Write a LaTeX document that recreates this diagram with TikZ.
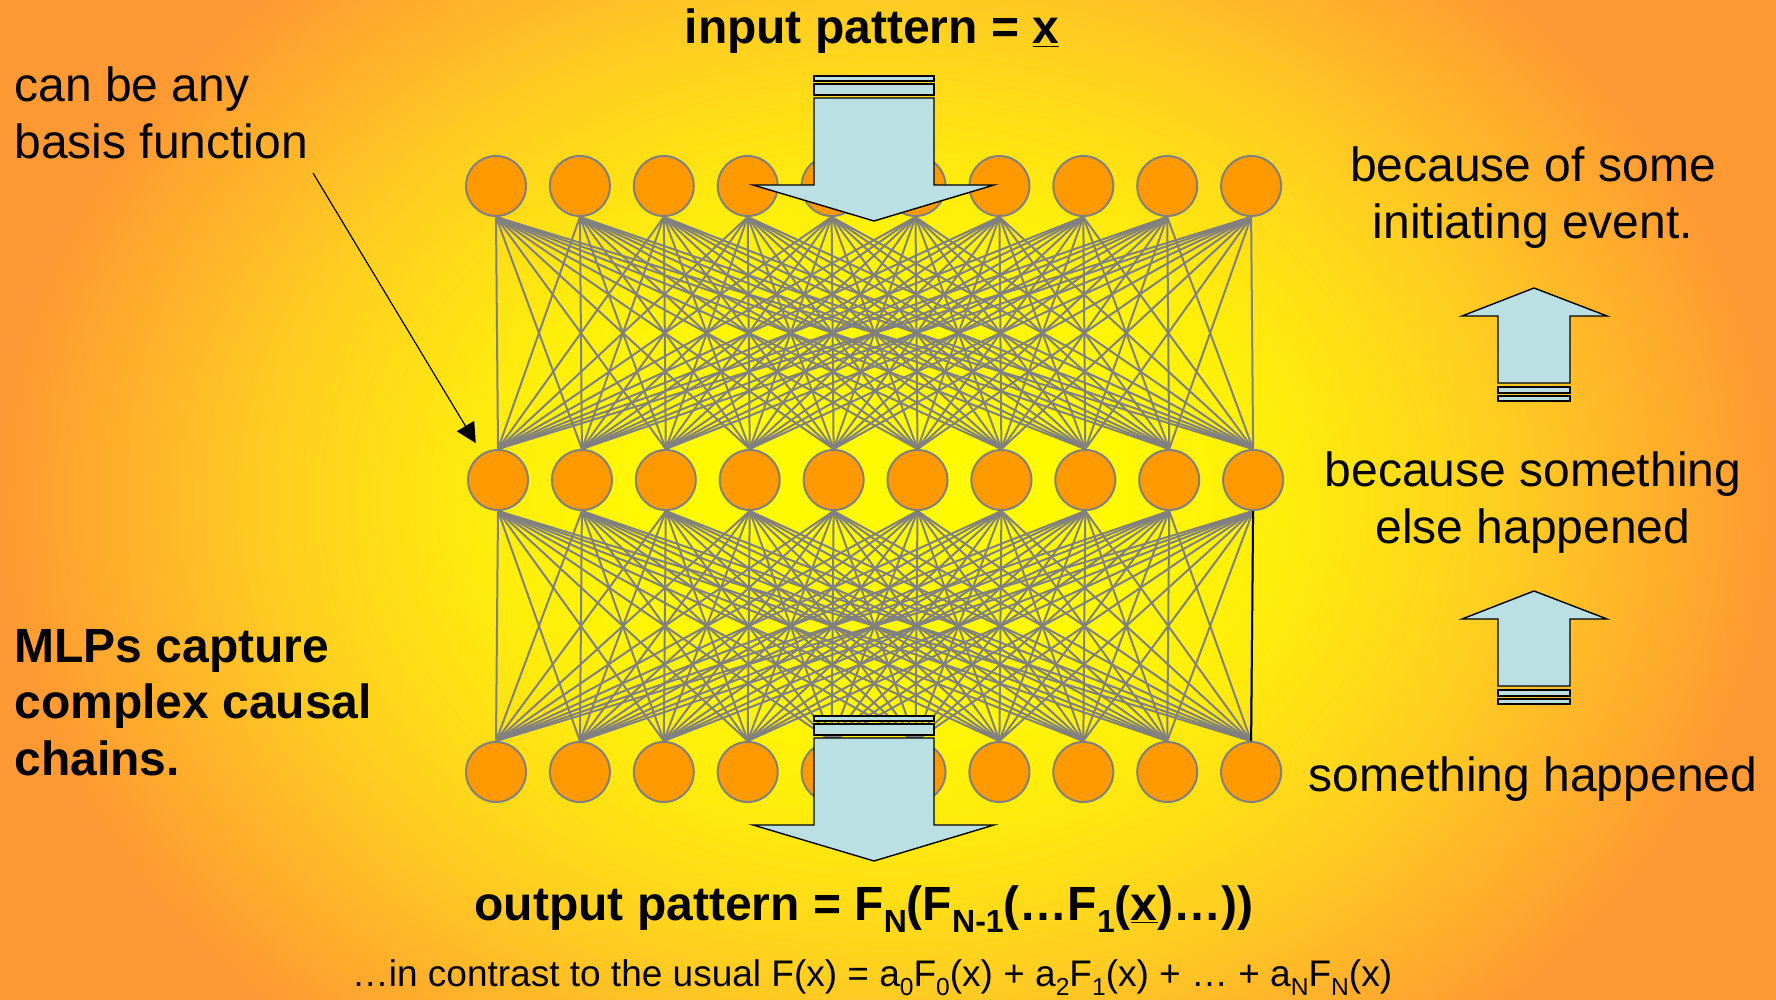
\documentclass[tikz,border=0pt]{standalone}
\usepackage{fontspec}
\setmainfont{Liberation Sans}
\usetikzlibrary{arrows.meta}

\definecolor{glowcore}{RGB}{255,250,0}
\definecolor{glowinner}{RGB}{255,238,10}
\definecolor{glowmid}{RGB}{255,208,32}
\definecolor{gloworange}{RGB}{255,153,51}
\definecolor{unitfill}{RGB}{255,153,0}
\definecolor{unitline}{RGB}{128,128,128}
\definecolor{shaftblue}{RGB}{187,224,227}

\pgfdeclareradialshading{slideglow}{\pgfpoint{0bp}{0bp}}{color(0bp)=(glowcore); color(6bp)=(glowcore); color(11bp)=(glowinner); color(17bp)=(glowmid); color(25bp)=(gloworange); color(50bp)=(gloworange)}

\newcommand{\bigsub}[1]{\raisebox{-6pt}{\fontsize{16}{16}\selectfont #1}}
\newcommand{\smallsub}[1]{\raisebox{-4.5pt}{\fontsize{12.3}{12.3}\selectfont #1}}

\tikzset{
  unit/.style={circle, fill=unitfill, draw=unitline, line width=1pt, minimum size=30pt, inner sep=0pt},
  wire/.style={draw=unitline, line width=1pt},
  shaft/.style={fill=shaftblue, draw=black, line width=0.7pt, line join=miter},
  slidetext/.style={inner sep=0pt, font=\fontsize{24}{28.5}\selectfont},
  pointer/.style={draw=black, line width=0.6pt, -{Triangle[length=10pt,width=10pt]}},
  % big arrow, tip at the origin
  bigdown/.pic={
    \path[shaft] (0,0) -- (-121,-36) -- (-60,-36) -- (-60,-123) -- (60,-123) -- (60,-36) -- (120,-36) -- cycle;
    \path[shaft] (-60,-137) rectangle (60,-126);
    \path[shaft] (-60,-145) rectangle (60,-140);
  },
  % small arrow, tip at the origin
  smallup/.pic={
    \path[shaft] (0,0) -- (-72,28) -- (-36,28) -- (-36,95) -- (36,95) -- (36,28) -- (73,28) -- cycle;
    \path[shaft] (-36,99) rectangle (36,105);
    \path[shaft] (-36,108) rectangle (36,113);
  }
}

\begin{document}
\begin{tikzpicture}[x=0.5pt, y=-0.5pt]
  \useasboundingbox (0,0) rectangle (1776,1000);
  \begin{scope}
    \clip (0,0) rectangle (1776,1000);
    \shade[shading=slideglow] (0,-200) rectangle (1776,1200);
  \end{scope}

  % three layers of units
  \foreach \i in {0,...,9} {
    \node[unit] (t\i) at ({496+83.9*\i},186) {};
    \node[unit] (m\i) at ({498+83.9*\i},480) {};
    \node[unit] (b\i) at ({496+83.9*\i},772) {};
  }
  \foreach \i in {0,...,9}
    \foreach \j in {0,...,9} {
      \draw[wire] (t\i.south) -- (m\j.north);
      \draw[wire] (m\i.south) -- (b\j.north);
    }
  \draw[line width=1pt] (m9.south) -- (b9.north);

  % block arrows
  \pic at (874,221) {bigdown};
  \pic at (874,861) {bigdown};
  \pic at (1534,288) {smallup};
  \pic at (1534,591) {smallup};

  % texts (multi-line nodes sit on their last line)
  \node[slidetext, anchor=base] (inpat) at (872,44) {\bfseries input pattern = \underline{x}};
  \node[slidetext, anchor=base west, align=left] (basis) at (14,159) {can be any\\basis function};
  \node[slidetext, anchor=base west, align=left, font=\fontsize{24}{28.25}\selectfont\bfseries] (mlps) at (14,775) {MLPs capture\\complex causal\\chains.};
  \node[slidetext, anchor=base, align=center] (initev) at (1533,239) {because of some\\initiating event.};
  \node[slidetext, anchor=base, align=center] (elseev) at (1533,543) {because something\\else happened};
  \node[slidetext, anchor=base] (firstev) at (1533,791) {something happened};
  \node[slidetext, anchor=base] (outpat) at (864,920) {\bfseries output pattern = F\bigsub{N}(F\bigsub{N-1}(…F\bigsub{1}(\underline{x})…))};
  \node[slidetext, anchor=base, font=\fontsize{18.5}{22}\selectfont] (contrast) at (872,986) {…in contrast to the usual F(x) = a\smallsub{0}F\smallsub{0}(x) + a\smallsub{2}F\smallsub{1}(x) + … + a\smallsub{N}F\smallsub{N}(x)};

  \coordinate (basistail) at (313,173);
  \draw[pointer, shorten >=6pt] (basistail) -- (m0);
\end{tikzpicture}
\end{document}
